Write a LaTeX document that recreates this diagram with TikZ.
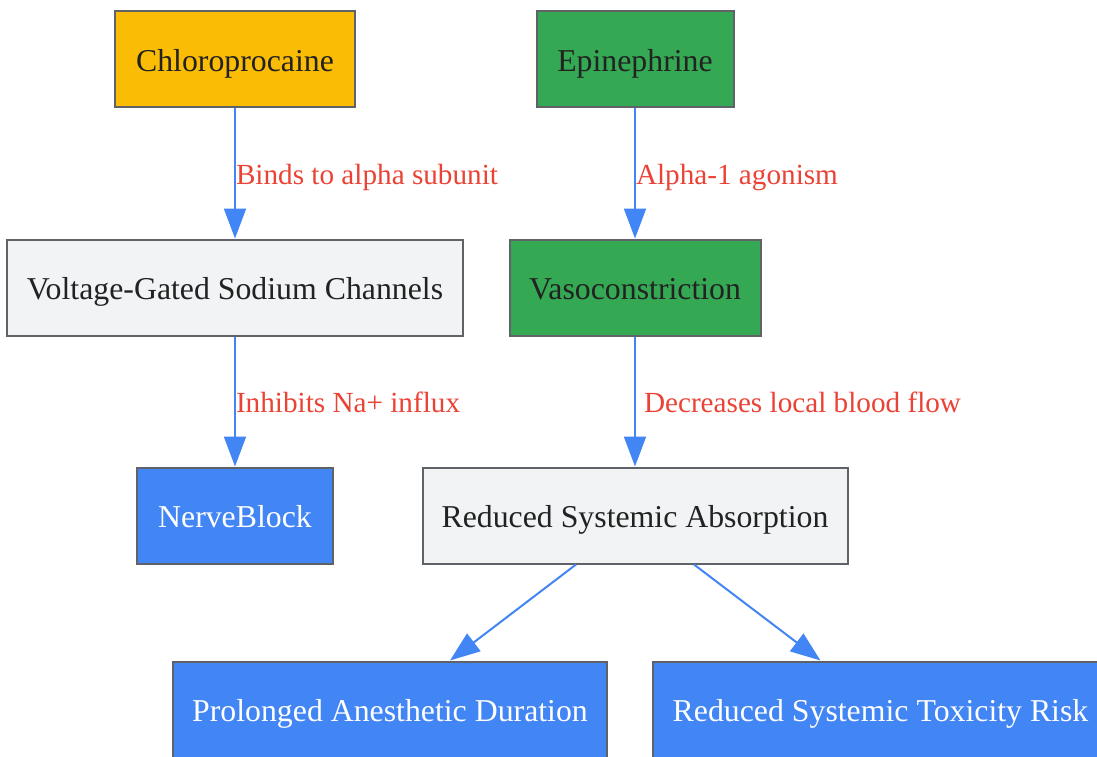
\documentclass[tikz,border=0pt]{standalone}
\usepackage{fontspec}
\setmainfont{Liberation Serif}
\usetikzlibrary{arrows.meta}
\definecolor{yellowc}{HTML}{FBBC05}
\definecolor{greenc}{HTML}{34A853}
\definecolor{bluec}{HTML}{4285F4}
\definecolor{lightc}{HTML}{F1F3F4}
\definecolor{borderc}{HTML}{5F6368}
\definecolor{redc}{HTML}{EA4335}
\definecolor{textc}{HTML}{222222}
\begin{document}
\begin{tikzpicture}[x=1pt,y=-1pt,
  box/.style={draw=borderc, line width=2pt, inner sep=0pt, minimum height=96pt,
    text height=30pt, text depth=6pt,
    font=\fontsize{31.8}{36}\selectfont, text=textc},
  yellowbox/.style={box, fill=yellowc},
  greenbox/.style={box, fill=greenc},
  lightbox/.style={box, fill=lightc},
  bluebox/.style={box, fill=bluec, text=white},
  edge/.style={draw=bluec, line width=2pt, -{Triangle[length=30pt,width=22pt]}},
  lbl/.style={font=\fontsize{29.2}{33}\selectfont, text=redc, inner sep=0pt,
    text height=20pt, text depth=0pt}]
\useasboundingbox (0,0) rectangle (1097,757);
\node[yellowbox, minimum width=240pt] (chloro) at (235,59.5) {Chloroprocaine};
\node[greenbox, minimum width=197pt] (epi) at (635,59.5) {Epinephrine};
\node[lightbox, minimum width=456pt] (vgsc) at (235,287.5) {Voltage-Gated Sodium Channels};
\node[greenbox, minimum width=251pt] (vaso) at (635,287.5) {Vasoconstriction};
\node[bluebox, minimum width=196pt] (nerve) at (235,515.5) {NerveBlock};
\node[lightbox, minimum width=425pt] (rsa) at (635,515.5) {Reduced Systemic Absorption};
\node[bluebox, minimum width=434pt] (prol) at (390,709.5) {Prolonged Anesthetic Duration};
\node[bluebox, minimum width=455pt] (tox) at (880.5,709.5) {Reduced Systemic Toxicity Risk};
\draw[edge] (chloro) -- node[lbl, right, yshift=-1pt] {Binds to alpha subunit} (vgsc);
\draw[edge] (epi) -- node[lbl, right, yshift=-1pt] {Alpha-1 agonism} (vaso);
\draw[edge] (vgsc) -- node[lbl, right, yshift=-1pt] {Inhibits Na+ influx} (nerve);
\draw[edge] (vaso) -- node[lbl, right, xshift=8pt, yshift=-1pt] {Decreases local blood flow} (rsa);
\draw[edge] ([xshift=-59pt]rsa.south) -- ([xshift=60pt]prol.north);
\draw[edge] ([xshift=59pt]rsa.south) -- ([xshift=-60pt]tox.north);
\end{tikzpicture}
\end{document}
